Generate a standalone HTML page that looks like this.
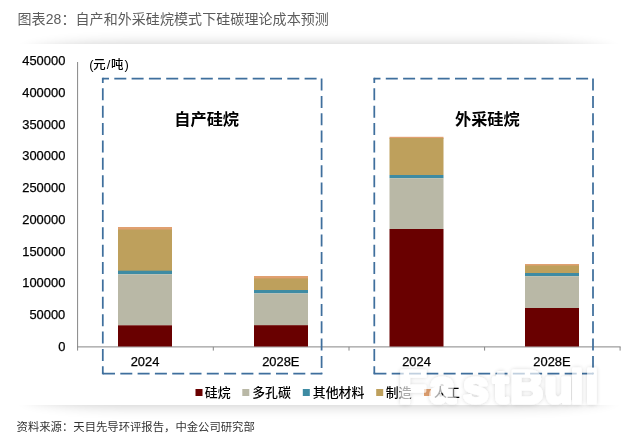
<!DOCTYPE html>
<html lang="zh-CN">
<head>
<meta charset="utf-8">
<title>图表28：自产和外采硅烷模式下硅碳理论成本预测</title>
<style>
  html, body { margin: 0; padding: 0; background: #fff; }
  body { width: 642px; height: 442px; position: relative; overflow: hidden;
         font-family: "Liberation Sans", "Noto Sans CJK SC", sans-serif; }
  .title { position: absolute; left: 17.5px; top: 9px; height: 20px; line-height: 20px;
           font-size: 14px; color: #5c5c5c; white-space: nowrap; letter-spacing: 0.08px; }
  .shadow { position: absolute; left: 27px; top: 46px; width: 584px; height: 357.5px;
            border-radius: 110px / 10px;
            box-shadow: 0 0 14px 1px rgba(0,0,0,0.24); background: #fff; }
  .figure { position: absolute; left: 0; top: 43.7px; width: 642px; height: 361.1px; background: #fff; }
  svg.chart { position: absolute; left: 0; top: 0; width: 642px; height: 442px; }
  svg.chart text { font-family: "Liberation Sans", "Noto Sans CJK SC", sans-serif; }
  .source { position: absolute; left: 16.6px; top: 418px; height: 18px; line-height: 18px;
            font-size: 11.35px; color: #333; white-space: nowrap; }
</style>
</head>
<body>
  <div class="title">图表28：自产和外采硅烷模式下硅碳理论成本预测</div>
  <div class="shadow"></div>
  <div class="figure"></div>

  <svg class="chart" viewBox="0 0 642 442">
    <!-- axes -->
    <g stroke="#868686" stroke-width="1" fill="none">
      <line x1="77.6" y1="62" x2="77.6" y2="350.6"/>
      <line x1="77.1" y1="346.9" x2="620.6" y2="346.9"/>
      <line x1="213.3" y1="346.9" x2="213.3" y2="350.6"/>
      <line x1="349" y1="346.9" x2="349" y2="350.6"/>
      <line x1="484.6" y1="346.9" x2="484.6" y2="350.6"/>
      <line x1="620.1" y1="346.9" x2="620.1" y2="350.6"/>
    </g>

    <!-- y labels -->
    <g font-size="12.9" fill="#000" text-anchor="end" stroke="#000" stroke-width="0.25">
      <text x="65.3" y="65.35">450000</text>
      <text x="65.3" y="97.05">400000</text>
      <text x="65.3" y="128.75">350000</text>
      <text x="65.3" y="160.45">300000</text>
      <text x="65.3" y="192.15">250000</text>
      <text x="65.3" y="223.85">200000</text>
      <text x="65.3" y="255.55">150000</text>
      <text x="65.3" y="287.25">100000</text>
      <text x="65.3" y="318.95">50000</text>
      <text x="65.3" y="350.65">0</text>
    </g>
    <text y="68.9" font-size="12.9" fill="#000"><tspan x="89.3">(</tspan><tspan x="93.3" font-size="12.4" font-weight="500" dy="0.2">元</tspan><tspan x="106.8" dy="-0.2">/</tspan><tspan x="110.9" font-size="12.4" font-weight="500" dy="0.2">吨</tspan><tspan x="124.4" dy="-0.2">)</tspan></text>

    <!-- bar 1 : 自产 2024 -->
    <g>
      <rect x="118" y="227" width="54" height="3" fill="#e0a070"/>
      <rect x="118" y="229.5" width="54" height="41.5" fill="#bea05c"/>
      <rect x="118" y="270.7" width="54" height="3.6" fill="#3e8ba3"/>
      <rect x="118" y="274.3" width="54" height="51" fill="#b9b8a6"/>
      <rect x="118" y="325.3" width="54" height="21.2" fill="#690000"/>
    </g>
    <!-- bar 2 : 自产 2028E -->
    <g>
      <rect x="254" y="276" width="54" height="3" fill="#e0a070"/>
      <rect x="254" y="278.4" width="54" height="12" fill="#bea05c"/>
      <rect x="254" y="290" width="54" height="3.4" fill="#3e8ba3"/>
      <rect x="254" y="293.4" width="54" height="32" fill="#b9b8a6"/>
      <rect x="254" y="325.2" width="54" height="21.3" fill="#690000"/>
    </g>
    <!-- bar 3 : 外采 2024 -->
    <g>
      <rect x="389.5" y="136.8" width="54" height="2" fill="#e0a070"/>
      <rect x="389.5" y="138" width="54" height="37" fill="#bea05c"/>
      <rect x="389.5" y="175" width="54" height="3.2" fill="#3e8ba3"/>
      <rect x="389.5" y="178.2" width="54" height="51" fill="#b9b8a6"/>
      <rect x="389.5" y="229" width="54" height="117.5" fill="#690000"/>
    </g>
    <!-- bar 4 : 外采 2028E -->
    <g>
      <rect x="525" y="264" width="54" height="2" fill="#e0a070"/>
      <rect x="525" y="265.5" width="54" height="8" fill="#bea05c"/>
      <rect x="525" y="273" width="54" height="3.2" fill="#3e8ba3"/>
      <rect x="525" y="276.2" width="54" height="32" fill="#b9b8a6"/>
      <rect x="525" y="308" width="54" height="38.5" fill="#690000"/>
    </g>

    <!-- dashed boxes -->
    <g fill="none" stroke="#3f6f9d" stroke-width="1.75" stroke-dasharray="12 5.3" stroke-linecap="butt">
      <path d="M102.8 78.6 H321.6" stroke-dashoffset="5.8"/>
      <path d="M321.6 78.6 V373.5" stroke-dashoffset="0" stroke-dasharray="12 5.33"/>
      <path d="M321.6 373.5 H102.8" stroke-dashoffset="1.0"/>
      <path d="M102.8 78.6 V373.5" stroke-dashoffset="7.6" stroke-dasharray="12 5.37"/>
      <path d="M374.3 78.6 H593.0" stroke-dashoffset="5.8"/>
      <path d="M593.0 78.6 V373.5" stroke-dashoffset="0" stroke-dasharray="12 5.33"/>
      <path d="M593.0 373.5 H374.3" stroke-dashoffset="1.0"/>
      <path d="M374.3 78.6 V373.5" stroke-dashoffset="7.6" stroke-dasharray="12 5.37"/>
    </g>
    <g fill="#3f6f9d">
      <rect x="101.93" y="77.73" width="1.75" height="1.75"/>
      <rect x="101.93" y="372.63" width="1.75" height="1.75"/>
      <rect x="320.73" y="372.63" width="1.75" height="1.75"/>
      <rect x="373.43" y="77.73" width="1.75" height="1.75"/>
      <rect x="373.43" y="372.63" width="1.75" height="1.75"/>
      <rect x="592.13" y="372.63" width="1.75" height="1.75"/>
    </g>

    <!-- group titles -->
    <g font-size="16.2" font-weight="bold" fill="#000">
      <text x="174.3" y="124.8">自产硅烷</text>
      <text x="455.0" y="124.8">外采硅烷</text>
    </g>

    <!-- x labels -->
    <g font-size="12.9" fill="#000" text-anchor="middle" stroke="#000" stroke-width="0.25">
      <text x="145" y="366.4">2024</text>
      <text x="280.8" y="366.4">2028E</text>
      <text x="416.5" y="366.4">2024</text>
      <text x="552" y="366.4">2028E</text>
    </g>

    <!-- legend -->
    <g>
      <rect x="195.5" y="389" width="7" height="7" fill="#690000"/>
      <rect x="242.3" y="389" width="7" height="7" fill="#b9b8a6"/>
      <rect x="302.8" y="389" width="7" height="7" fill="#3e8ba3"/>
      <rect x="376.2" y="389" width="7" height="7" fill="#bea05c"/>
      <rect x="424" y="389" width="7" height="7" fill="#e0a070"/>
    </g>
    <g font-size="12.9" font-weight="500" fill="#000">
      <text x="204.8" y="397">硅烷</text>
      <text x="252.2" y="397">多孔碳</text>
      <text x="312.8" y="397">其他材料</text>
      <text x="385.8" y="397">制造</text>
      <text x="434" y="397">人工</text>
    </g>
  </svg>

  <svg class="chart" viewBox="0 0 642 442" style="pointer-events:none">
    <defs>
      <filter id="wmsh" x="-10%" y="-30%" width="120%" height="160%">
        <feGaussianBlur in="SourceAlpha" stdDeviation="2.2" result="b"/>
        <feFlood flood-color="#000" flood-opacity="0.24"/>
        <feComposite in2="b" operator="in" result="sh"/>
        <feMerge><feMergeNode in="sh"/><feMergeNode in="SourceGraphic"/></feMerge>
      </filter>
    </defs>
    <g opacity="0.68" filter="url(#wmsh)">
      <text x="398.7 429.5 463 493 510.2 544.6 570.5 585.5" y="402.9" font-family="Liberation Sans, sans-serif" font-weight="bold" font-size="46"
            fill="#fff" stroke="#fff" stroke-width="3.2" stroke-linejoin="round">FastBull</text>
    </g>
  </svg>
  <div class="source">资料来源：天目先导环评报告，中金公司研究部</div>
</body>
</html>
